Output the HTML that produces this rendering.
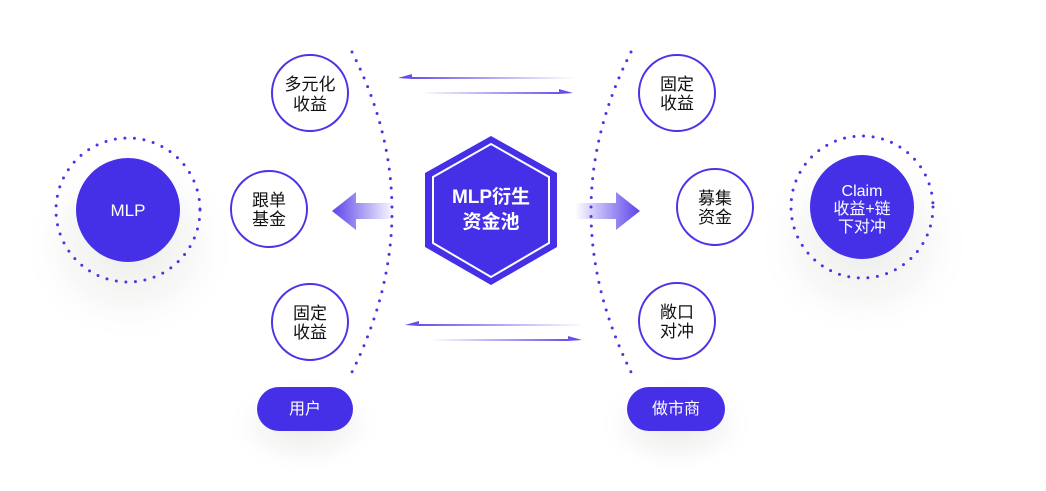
<!DOCTYPE html>
<html><head><meta charset="utf-8"><style>
html,body{margin:0;padding:0;background:#fff;}
svg{display:block}
text{font-family:"Liberation Sans","Noto Sans CJK SC",sans-serif;}
</style></head><body>
<svg width="1046" height="491" viewBox="0 0 1046 491" xmlns="http://www.w3.org/2000/svg">
<defs>
<radialGradient id="sh" cx="50%" cy="55%" r="50%">
<stop offset="0" stop-color="#e8e9e6" stop-opacity="0.9"/>
<stop offset="0.6" stop-color="#f1f2f0" stop-opacity="0.5"/>
<stop offset="1" stop-color="#fff" stop-opacity="0"/>
</radialGradient>
<linearGradient id="gl" x1="0" x2="1"><stop offset="0" stop-color="#5a44ea"/><stop offset="1" stop-color="#5a44ea" stop-opacity="0"/></linearGradient>
<linearGradient id="gr" x1="1" x2="0"><stop offset="0" stop-color="#5a44ea"/><stop offset="1" stop-color="#5a44ea" stop-opacity="0"/></linearGradient>
</defs>
<ellipse cx="130" cy="235" rx="110" ry="100" fill="url(#sh)"/>
<ellipse cx="864" cy="232" rx="110" ry="100" fill="url(#sh)"/>
<ellipse cx="305" cy="420" rx="80" ry="50" fill="url(#sh)"/>
<ellipse cx="676" cy="420" rx="80" ry="50" fill="url(#sh)"/>

<path d="M352 52 Q432 210 352 372" fill="none" stroke="#4a35e6" stroke-width="3" stroke-linecap="round" stroke-dasharray="0 9.5"/>
<path d="M631 52 Q551 210 631 372" fill="none" stroke="#4a35e6" stroke-width="3" stroke-linecap="round" stroke-dasharray="0 9.5"/>

<circle cx="128" cy="210" r="72" fill="none" stroke="#4a35e6" stroke-width="3" stroke-linecap="round" stroke-dasharray="0 9.6"/>
<circle cx="128" cy="210" r="52" fill="#4530e8"/>
<text x="128" y="216" fill="#fff" font-size="17" text-anchor="middle">MLP</text>

<circle cx="862" cy="207" r="71" fill="none" stroke="#4a35e6" stroke-width="3" stroke-linecap="round" stroke-dasharray="0 9.6"/>
<circle cx="862" cy="207" r="52" fill="#4530e8"/>
<text x="862" y="196" fill="#fff" font-size="16" text-anchor="middle">Claim</text>
<text x="862" y="214" fill="#fff" font-size="16" text-anchor="middle">收益+链</text>
<text x="862" y="232" fill="#fff" font-size="16" text-anchor="middle">下对冲</text>

<g fill="#fff" stroke="#4a35e6" stroke-width="2">
<circle cx="310" cy="93" r="38"/>
<circle cx="269" cy="209" r="38"/>
<circle cx="310" cy="322" r="38"/>
<circle cx="677" cy="93" r="38"/>
<circle cx="715" cy="207" r="38"/>
<circle cx="677" cy="321" r="38"/>
</g>
<g fill="#111" font-size="17" text-anchor="middle">
<text x="310" y="90">多元化</text><text x="310" y="110">收益</text>
<text x="269" y="206">跟单</text><text x="269" y="225">基金</text>
<text x="310" y="319">固定</text><text x="310" y="338">收益</text>
<text x="677" y="90">固定</text><text x="677" y="109">收益</text>
<text x="715" y="204">募集</text><text x="715" y="223">资金</text>
<text x="677" y="318">敞口</text><text x="677" y="337">对冲</text>
</g>

<polygon points="491,136 557,173 557,247 491,285 425,247 425,173" fill="#4530e8"/>
<polygon points="491,144 549,177 549,243 491,277 433,243 433,177" fill="none" stroke="#fff" stroke-width="2"/>
<text x="491" y="203" fill="#fff" font-size="19" font-weight="bold" text-anchor="middle">MLP衍生</text>
<text x="491" y="228" fill="#fff" font-size="19" font-weight="bold" text-anchor="middle">资金池</text>

<polygon points="332,211 356,192 356,203 395,203 395,219 356,219 356,230" fill="url(#gl)"/>
<polygon points="640,211 616,192 616,203 575,203 575,219 616,219 616,230" fill="url(#gr)"/>

<polygon points="398,78 412,74 412,77 575,77 575,79 412,79" fill="url(#gl)"/>
<polygon points="573,93 559,89 559,92 420,92 420,94 559,94" fill="url(#gr)"/>
<polygon points="405,325 419,321 419,324 585,324 585,326 419,326" fill="url(#gl)"/>
<polygon points="582,340 568,336 568,339 430,339 430,341 568,341" fill="url(#gr)"/>

<rect x="257" y="387" width="96" height="44" rx="22" fill="#4530e8"/>
<text x="305" y="414" fill="#fff" font-size="16" text-anchor="middle">用户</text>
<rect x="627" y="387" width="98" height="44" rx="22" fill="#4530e8"/>
<text x="676" y="414" fill="#fff" font-size="16" text-anchor="middle">做市商</text>
</svg>
</body></html>
